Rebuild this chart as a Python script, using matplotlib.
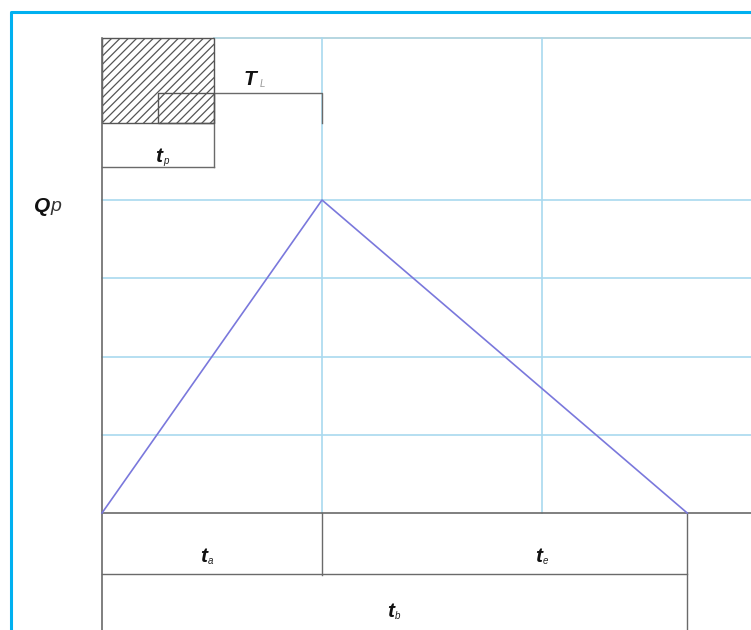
import matplotlib
matplotlib.use("Agg")
import matplotlib.pyplot as plt
from matplotlib.patches import Rectangle
from matplotlib.lines import Line2D

plt.rcParams['font.family'] = ['Liberation Sans', 'DejaVu Sans']
plt.rcParams['hatch.color'] = '#555555'
plt.rcParams['hatch.linewidth'] = 0.9

# ---- data (time in units of ta, discharge in units of Qp) ----
ta = 1.0          # time to peak
te = 1.66         # recession time
tb = ta + te      # base time
Qp = 1.0          # peak discharge
tp = 0.509        # rainfall duration
TL_start = tp / 2 # centroid of rainfall
hydro_t = [0.0, ta, tb]
hydro_q = [0.0, Qp, 0.0]
grid_t = [ta, 2.0]
grid_q = [0.25, 0.5, 0.75, 1.0, 1.518]
rain_bottom = 1.246
TL_level = 1.342
tp_dim = 1.105
base_dim = -0.195
ta_tick = -0.198

# ---- layout ----
W, H = 751, 630
fig = plt.figure(figsize=(W / 100, H / 100), dpi=100)
ax = fig.add_axes([0, 0, 1, 1])
xmin, xmax = -102 / 220, 649 / 220
ymin, ymax = -117 / 313, 513 / 313
ax.set_xlim(xmin, xmax)
ax.set_ylim(ymin, ymax)
ax.axis('off')

gridc = '#a9d9ef'
dark = '#6a6a6a'
top = grid_q[-1]

# grid
for q in grid_q[:-1]:
    ax.plot([0, xmax], [q, q], color=gridc, lw=1.2, zorder=1)
ax.plot([tp, xmax], [top, top], color='#a9cfdc', lw=1.2, zorder=1)
for t in grid_t:
    ax.plot([t, t], [0, top], color=gridc, lw=1.2, zorder=1)

# rainfall block
ax.add_patch(Rectangle((0, rain_bottom), tp, top - rain_bottom, facecolor='white',
                       edgecolor='#555555', hatch='////', lw=1.0, zorder=3))
ax.add_patch(Rectangle((TL_start, rain_bottom), tp - TL_start, TL_level - rain_bottom,
                       facecolor='none', edgecolor='#555555', lw=1.0, zorder=4))

# lag line
ax.plot([tp, ta, ta], [TL_level, TL_level, rain_bottom], color=dark, lw=1.0, zorder=3)
# tp dimension
ax.plot([0, tp], [tp_dim, tp_dim], color=dark, lw=1.0, zorder=3)
ax.plot([tp, tp], [rain_bottom, tp_dim], color=dark, lw=1.0, zorder=3)

# axes lines
ax.plot([0, 0], [top, ymin], color=dark, lw=1.2, zorder=3)
ax.plot([0, xmax], [0, 0], color=dark, lw=1.2, zorder=3)
ax.plot([ta, ta], [0, ta_tick], color=dark, lw=1.0, zorder=3)
ax.plot([0, tb], [base_dim, base_dim], color=dark, lw=1.0, zorder=3)
ax.plot([tb, tb], [0, ymin], color=dark, lw=1.0, zorder=3)

# hydrograph
ax.plot(hydro_t, hydro_q, color='#7a78dc', lw=1.2, zorder=5)

# labels
def label(x, y, main, sub, size=15, subsize=7, dx=0.032, dy=-0.014, subcolor='#222222'):
    ax.text(x, y, main, fontsize=size, fontweight='bold', fontstyle='italic',
            ha='center', va='center', color='#111111', zorder=6)
    ax.text(x + dx, y + dy, sub, fontsize=subsize, fontstyle='italic',
            ha='center', va='center', color=subcolor, zorder=6)

ax.text(-0.31, Qp - 0.02, 'Q', fontsize=15, fontweight='bold', fontstyle='italic',
        ha='left', va='center', color='#111111')
ax.text(-0.232, Qp - 0.02, 'p', fontsize=14, fontstyle='italic',
        ha='left', va='center', color='#333333')
label(0.673, 1.385, 'T', 'L', size=15, subsize=7, dx=0.055, dy=-0.014, subcolor='#999999')
label(tp / 2 + 0.005, 1.14, 't', 'p', dx=0.032)
label(0.46, -0.14, 't', 'a')
label(1.985, -0.14, 't', 'e')
label(1.31, -0.316, 't', 'b')

# blue outer frame
fx = 10.5 / W
fy = 1 - 11.5 / H
fig.add_artist(Line2D([fx, fx, 1.01], [-0.01, fy, fy], color='#00b0f0', lw=2.2,
                      transform=fig.transFigure))

fig.savefig('out.png', dpi=100)
